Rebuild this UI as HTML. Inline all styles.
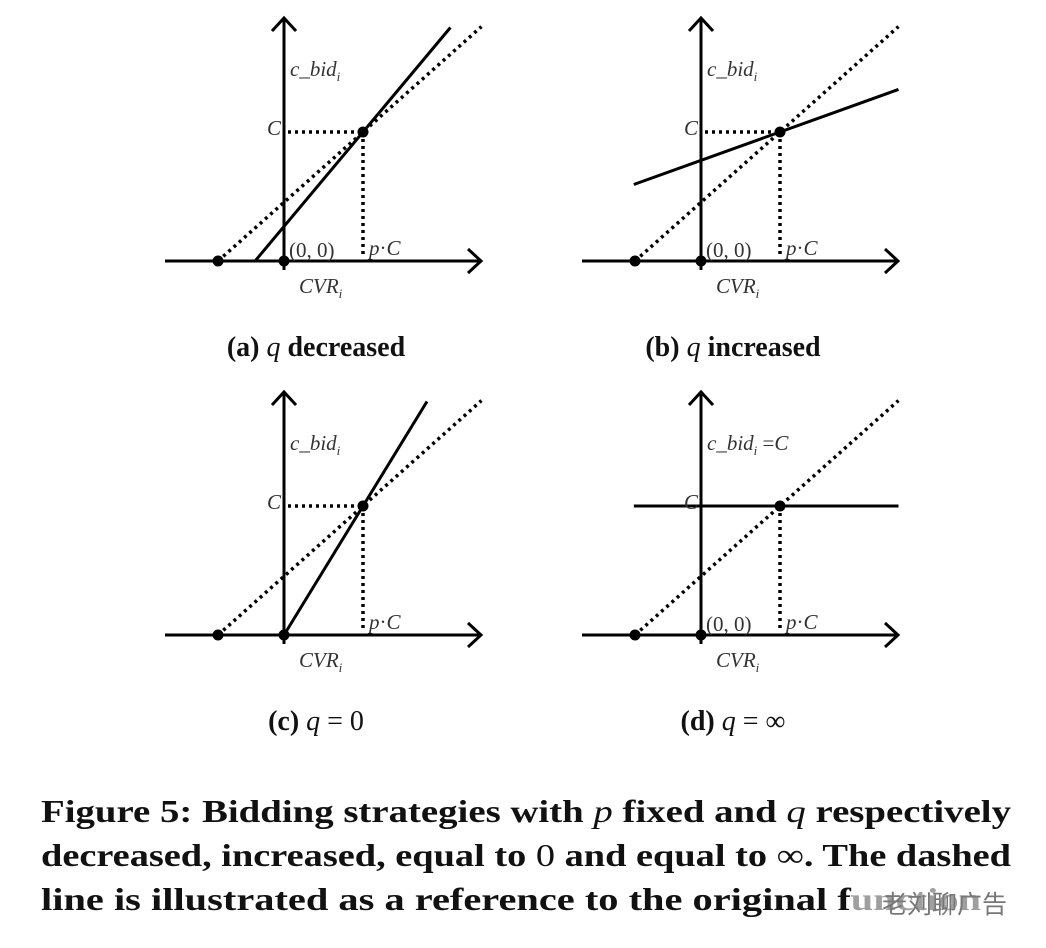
<!DOCTYPE html>
<html><head><meta charset="utf-8"><style>
body{margin:0;background:#fff;width:1046px;height:948px;overflow:hidden}
svg{display:block}
.m{font-family:"Liberation Serif",serif;font-style:italic;fill:#333;font-size:21px}
.n{font-family:"Liberation Serif",serif;fill:#333;font-size:21px}
.cap{font-family:"Liberation Serif",serif;font-weight:bold;fill:#111;font-size:28px}
.fig{font-family:"Liberation Serif",serif;font-weight:bold;fill:#111;font-size:32px}
</style></head><body>
<svg id="chart" width="1046" height="948">
<g id="panels"></g>
<text class="cap" x="316" y="356" text-anchor="middle">(a) <tspan font-style="italic" font-weight="normal">q</tspan> decreased</text>
<text class="cap" x="733" y="356" text-anchor="middle">(b) <tspan font-style="italic" font-weight="normal">q</tspan> increased</text>
<text class="cap" x="316" y="730" text-anchor="middle">(c) <tspan font-style="italic" font-weight="normal">q</tspan> <tspan font-weight="normal">= 0</tspan></text>
<text class="cap" x="733" y="730" text-anchor="middle">(d) <tspan font-style="italic" font-weight="normal">q</tspan> <tspan font-weight="normal">= ∞</tspan></text>
<text class="fig" x="41" y="822" textLength="970" lengthAdjust="spacingAndGlyphs">Figure 5: Bidding strategies with <tspan font-style="italic" font-weight="normal">p</tspan> fixed and <tspan font-style="italic" font-weight="normal">q</tspan> respectively</text>
<text class="fig" x="41" y="866" textLength="970" lengthAdjust="spacingAndGlyphs">decreased, increased, equal to <tspan font-weight="normal">0</tspan> and equal to <tspan font-weight="normal">∞</tspan>. The dashed</text>
<text class="fig" x="41" y="910" textLength="940" lengthAdjust="spacingAndGlyphs">line is illustrated as a reference to the original function</text>
<rect x="852" y="884" width="160" height="36" fill="#fff" opacity="0.6"/>
<text x="882" y="913" font-family="'Noto Sans CJK SC',sans-serif" font-size="25" fill="#777">老刘聊广告</text>
</svg>
<script>
// panel data (units: x in p·C, y in C)
const panelNames = ["a","b","c","d"];
const panelOrigins = [[284,261],[701,261],[284,635],[701,635]];
const solidIntercepts = [0.268, 0.78, 0, 1];
const solidSlopes = [0.732, 0.22, 1, 0];
const solidXStart = [-0.367, -0.85, 0, -0.85];
const dashedRoot = -0.835;
const showOrigin = [true,true,false,true];
const showCDash = [true,true,true,false];
const yLabels = ["c_bid","c_bid","c_bid","c_bid"];
const SX=79, SY=129, XMAX=2.5, YMAX=1.81;
const NS="http://www.w3.org/2000/svg";
const root=document.getElementById("panels");
function mk(tag,attrs,parent){const e=document.createElementNS(NS,tag);for(const k in attrs)e.setAttribute(k,attrs[k]);(parent||root).appendChild(e);return e;}
panelNames.forEach((nm,i)=>{
  const [ox,oy]=panelOrigins[i];
  const X=v=>ox+v*SX, Y=v=>oy-v*SY;
  const g=mk("g",{});
  
  
  const ln=(x1,y1,x2,y2,st)=>mk("line",Object.assign({x1,y1,x2,y2,stroke:"#000","stroke-width":3},st||{}),g);
  const xa=ln(ox-119,oy,ox+197,oy);  
  const ya=ln(ox,oy+9,ox,oy-243);  
  mk("polyline",{points:`${ox+184},${oy-12} ${ox+197},${oy} ${ox+184},${oy+12}`,fill:"none",stroke:"#000","stroke-width":3},g);
  mk("polyline",{points:`${ox-12},${oy-230} ${ox},${oy-243} ${ox+12},${oy-230}`,fill:"none",stroke:"#000","stroke-width":3},g);
  const ds={"stroke-dasharray":"3 4","stroke-width":3.5};
  const yd=x=>(x-dashedRoot)/(1-dashedRoot);
  const d=ln(X(dashedRoot),Y(0),X(XMAX),Y(yd(XMAX)),ds);
   
  if(showCDash[i]) ln(X(0)+4,Y(1),X(1),Y(1),ds);
  ln(X(1),Y(1),X(1),Y(0)-5,ds);
  const f=x=>solidIntercepts[i]+solidSlopes[i]*x;
  let xe=XMAX;
  if(solidSlopes[i]>0){xe=Math.min(XMAX,(YMAX-solidIntercepts[i])/solidSlopes[i]);}
  const s=ln(X(solidXStart[i]),Y(f(solidXStart[i])),X(xe),Y(f(xe)));
   
  [[dashedRoot,0],[0,0],[1,1]].forEach(p=>{const c=mk("circle",{cx:X(p[0]),cy:Y(p[1]),r:5.5,fill:"#000"},g);
     });
  const t=(x,y,txt,cls,anc)=>{const e=mk("text",{x,y,class:cls,"text-anchor":anc||"start"},g);e.innerHTML=txt;return e;};
  const yl=t(ox+6,oy-185,yLabels[i]+'<tspan font-size="13" dy="5">i</tspan>'+(nm==="d"?'<tspan dy="-5" font-style="normal"> =</tspan>C':''),"m");
   
  t(ox-3,Y(1)+3,"C","m","end");
  if(showOrigin[i]) t(ox+5,oy-4,"(0, 0)","n");
  t(X(1)+6,oy-6,'p<tspan font-style="normal">·</tspan>C',"m");
  const xl=t(ox+15,oy+32,'CVR<tspan font-size="13" dy="5">i</tspan>',"m");
   
});
</script>
</body></html>
